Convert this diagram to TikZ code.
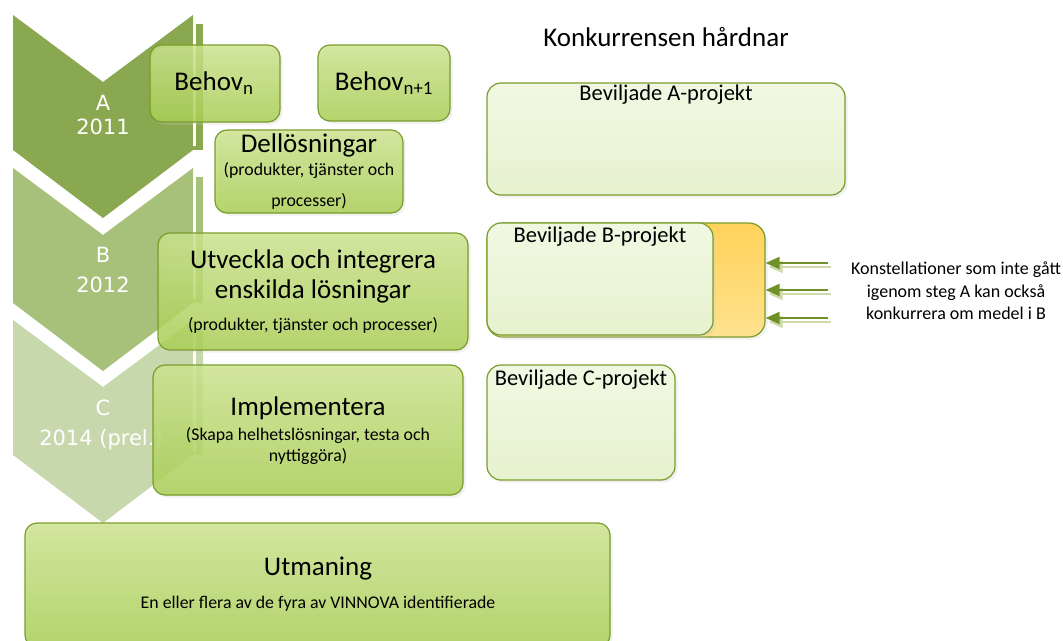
\documentclass[tikz,border=0pt]{standalone}
\usepackage{fontspec}
\setmainfont{Carlito}
\newfontfamily\chevfont{DejaVu Sans}
\usetikzlibrary{shadows,arrows.meta}
\definecolor{chevA}{RGB}{138,168,80}
\definecolor{chevB}{RGB}{167,192,122}
\definecolor{chevC}{RGB}{199,216,172}
\definecolor{gtop}{RGB}{202,228,138}
\definecolor{gbot}{RGB}{166,205,76}
\definecolor{gborder}{RGB}{122,156,44}
\definecolor{ltop}{RGB}{241,248,226}
\definecolor{lbot}{RGB}{231,242,208}
\definecolor{otop}{RGB}{255,210,90}
\definecolor{obot}{RGB}{255,226,142}
\definecolor{arrowc}{RGB}{112,145,38}
\definecolor{arrowsh}{RGB}{205,218,170}
\tikzset{
  gbox/.style={draw=gborder, line width=1.2pt, rounded corners=12pt, top color=gtop, bottom color=gbot, fill opacity=0.8, draw opacity=1, inner sep=0pt, drop shadow={shadow xshift=2.5pt, shadow yshift=-2.5pt, fill=black!20, opacity=0.3}},
  lbox/.style={draw=gborder, line width=1.2pt, rounded corners=14pt, top color=ltop, bottom color=lbot, inner sep=0pt, drop shadow={shadow xshift=2.5pt, shadow yshift=-2.5pt, fill=black!20, opacity=0.3}},
  obox/.style={draw=gborder, line width=1.2pt, rounded corners=16pt, top color=otop, bottom color=obot, inner sep=0pt, drop shadow={shadow xshift=2.5pt, shadow yshift=-2.5pt, fill=black!20, opacity=0.3}},
  chevtxt/.style={text=white, font=\chevfont\fontsize{21}{24}\selectfont, inner sep=0pt},
  bigtxt/.style={font=\fontsize{27}{32}\selectfont, inner sep=0pt},
  midtxt/.style={font=\fontsize{22.5}{27}\selectfont, inner sep=0pt},
  smalltxt/.style={font=\fontsize{17.8}{21}\selectfont, inner sep=0pt},
  sidetxt/.style={font=\fontsize{18}{22.5}\selectfont, inner sep=0pt, align=center},
  arr/.style={draw=arrowc, line width=2.2pt, -{Triangle[length=14pt,width=12pt]}},
  arrsh/.style={draw=arrowsh, line width=2.2pt, -{Triangle[length=14pt,width=12pt]}},
}
\begin{document}
\begin{tikzpicture}[x=1pt,y=-1pt]
\useasboundingbox (0,0) rectangle (1063,640);
% chevrons
\fill[chevA] (13,15) -- (103,82) -- (193,15) -- (193,150) -- (103,218) -- (13,150) -- cycle;
\fill[chevA] (193,24) rectangle (203,150);
\fill[chevB] (13,168) -- (103,235) -- (193,168) -- (193,303) -- (103,371) -- (13,303) -- cycle;
\fill[chevB] (193,177) rectangle (203,303);
\fill[chevC] (13,320) -- (103,387) -- (193,320) -- (193,455) -- (103,523) -- (13,455) -- cycle;
\fill[chevC] (193,329) rectangle (203,455);
\draw[white, line width=3pt] (194.5,24) -- (194.5,146);
\draw[white, line width=3pt] (194.5,177) -- (194.5,299);
\draw[white, line width=3pt] (194.5,329) -- (194.5,451);
\node[chevtxt] (ca) at (103,103) {A};
\node[chevtxt] (ca2) at (103,127) {2011};
\node[chevtxt] (cb) at (103,255) {B};
\node[chevtxt] (cb2) at (103,285) {2012};
\node[chevtxt] (cc) at (103,408) {C};
\node[chevtxt] (cc2) at (101,440) {2014 (prel.)};
% green boxes
\node[gbox, minimum width=130pt, minimum height=77pt] (behovn) at (215,83.5) {};
\node[gbox, minimum width=132pt, minimum height=76pt] (behovn1) at (384,83) {};
\node[gbox, minimum width=188pt, minimum height=83pt] (dell) at (309,171.5) {};
\node[gbox, minimum width=310pt, minimum height=117pt] (utv) at (313,291.5) {};
\node[gbox, minimum width=310pt, minimum height=130pt] (impl) at (308,430) {};
\node[gbox, minimum width=585pt, minimum height=124pt] (utm) at (317.5,585) {};
\node[bigtxt] (tbn) at (214,83) {Behov\textsubscript{n}};
\node[bigtxt] (tbn1) at (384,83) {Behov\textsubscript{n+1}};
\node[bigtxt] (tdell) at (309,145) {Dellösningar};
\node[smalltxt] (tdell2) at (309,171) {(produkter, tjänster och};
\node[smalltxt] (tdell3) at (309,201) {processer)};
\node[bigtxt] (tutv) at (313,261) {Utveckla och integrera};
\node[bigtxt] (tutv2) at (313,291) {enskilda lösningar};
\node[smalltxt] (tutv3) at (313,326) {(produkter, tjänster och processer)};
\node[bigtxt] (timpl) at (308,408) {Implementera};
\node[smalltxt] (timpl2) at (308,436) {(Skapa helhetslösningar, testa och};
\node[smalltxt] (timpl3) at (308,457) {nyttiggöra)};
\node[bigtxt] (tutm) at (318,569) {Utmaning};
\node[smalltxt] (tutm2) at (318,604) {En eller flera av de fyra av VINNOVA identifierade};
% right column
\node[bigtxt] (title) at (666,37) {Konkurrensen hårdnar};
\node[lbox, minimum width=358pt, minimum height=112pt] (beva) at (666,139) {};
\node[obox, minimum width=278pt, minimum height=114pt] (orange) at (626,280) {};
\node[lbox, minimum width=226pt, minimum height=112pt] (bevb) at (600,279) {};
\node[lbox, minimum width=188pt, minimum height=115pt] (bevc) at (581,422.5) {};
\node[midtxt] (tbeva) at (666,95) {Beviljade A-projekt};
\node[midtxt] (tbevb) at (600,237) {Beviljade B-projekt};
\node[midtxt] (tbevc) at (581,380) {Beviljade C-projekt};
% arrows
\coordinate (a1) at (828,263);
\coordinate (a2) at (828,290);
\coordinate (a3) at (828,318);
\foreach \a in {a1,a2,a3}{
  \draw[arrsh, transform canvas={xshift=3pt,yshift=-4pt}] (\a) -- (\a -| orange.east);
  \draw[arr] (\a) -- (\a -| orange.east);
}
\node[sidetxt] (side) at (956,291) {Konstellationer som inte gått\\igenom steg A kan också\\konkurrera om medel i B};
\end{tikzpicture}
\end{document}
